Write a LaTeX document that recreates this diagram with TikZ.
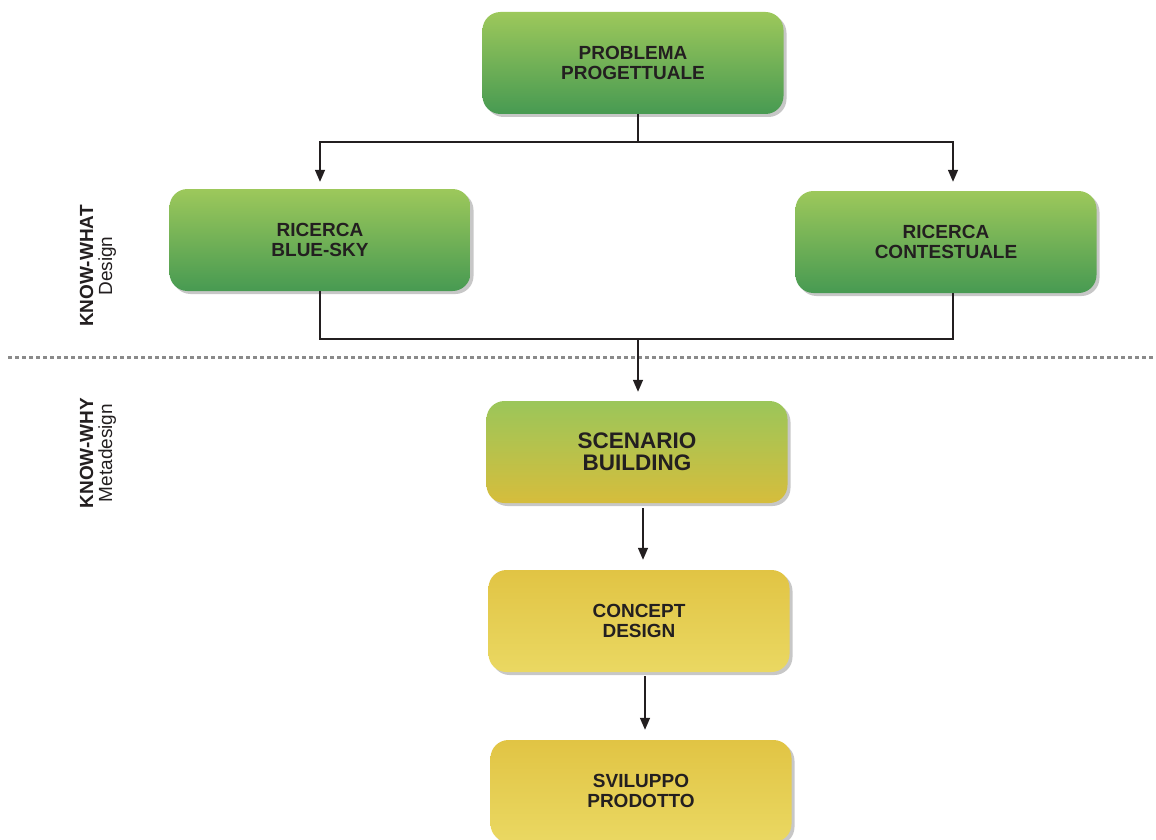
\documentclass[tikz,border=0pt]{standalone}
\usepackage{fontspec}
\setmainfont{Liberation Sans}
\usetikzlibrary{shadows,arrows.meta,calc}
\definecolor{txt}{HTML}{231F20}
\definecolor{gtop}{HTML}{9DC85B}
\definecolor{gmid}{HTML}{8EC056}
\definecolor{gbot}{HTML}{479A52}
\definecolor{stop}{HTML}{9BC65A}
\definecolor{smid}{HTML}{B0C14D}
\definecolor{sbot}{HTML}{D6BD3C}
\definecolor{ytop}{HTML}{E1C444}
\definecolor{ymid}{HTML}{E6CF55}
\definecolor{ybot}{HTML}{EAD862}
\definecolor{dotc}{HTML}{8A8A8A}
\tikzset{
  box/.style={rectangle, rounded corners=18pt, minimum width=301pt, minimum height=102pt,
    align=center, text=txt, font=\bfseries\fontsize{19}{19.5}\selectfont,
    drop shadow={shadow xshift=3pt, shadow yshift=-3pt, opacity=0.22, fill=black}},
  greenbox/.style={box, top color=gtop, middle color=gmid, bottom color=gbot},
  scenbox/.style={box, top color=stop, middle color=smid, bottom color=sbot, font=\bfseries\fontsize{22.5}{22}\selectfont},
  yellowbox/.style={box, top color=ytop, middle color=ymid, bottom color=ybot},
  conn/.style={draw=txt, line width=1.4pt},
  arr/.style={conn, -{Triangle[length=12pt,width=10pt]}},
  side/.style={rotate=90, align=center, text=txt, font=\fontsize{19}{19}\selectfont},
}
\begin{document}
\begin{tikzpicture}[x=1pt,y=-1pt]
\useasboundingbox (0,0) rectangle (1156,840);
\node[greenbox] (prob) at (633,63) {PROBLEMA\\PROGETTUALE};
\node[greenbox] (blue) at (320,240) {RICERCA\\BLUE-SKY};
\node[greenbox] (ctx) at (946,242) {RICERCA\\CONTESTUALE};
\node[scenbox] (scen) at (637,452) {SCENARIO\\BUILDING};
\node[yellowbox] (conc) at (639,621) {CONCEPT\\DESIGN};
\node[yellowbox] (svil) at (641,791) {SVILUPPO\\PRODOTTO};

\node[side] (kw) at (98,266) {{\bfseries KNOW-WHAT}\\Design};
\node[side] (ky) at (98,453) {{\bfseries KNOW-WHY}\\Metadesign};

\coordinate (ls) at (8,357);
\coordinate (le) at (1156,357);
\draw[dotc, line width=3pt, dash pattern=on 4pt off 3pt] (ls) -- (le);

\coordinate (jt) at (638,142);
\coordinate (jb) at (638,339);
\coordinate (cx) at (953,0);
\draw[conn] (prob.south -| jt) -- (jt);
\draw[arr, shorten >=7pt] (jt) -| (blue.north);
\draw[arr, shorten >=9pt] (jt) -| (cx |- ctx.north);
\draw[conn] (blue.south) |- (cx |- jb) -- (cx |- ctx.south);
\draw[arr, shorten >=9pt] (jb) -- (jb |- scen.north);
\draw[arr, shorten <=5pt, shorten >=10pt] ([xshift=6pt]scen.south) -- ([xshift=6pt]scen.south |- conc.north);
\draw[arr, shorten <=4pt, shorten >=10pt] ([xshift=6pt]conc.south) -- ([xshift=6pt]conc.south |- svil.north);
\end{tikzpicture}
\end{document}
